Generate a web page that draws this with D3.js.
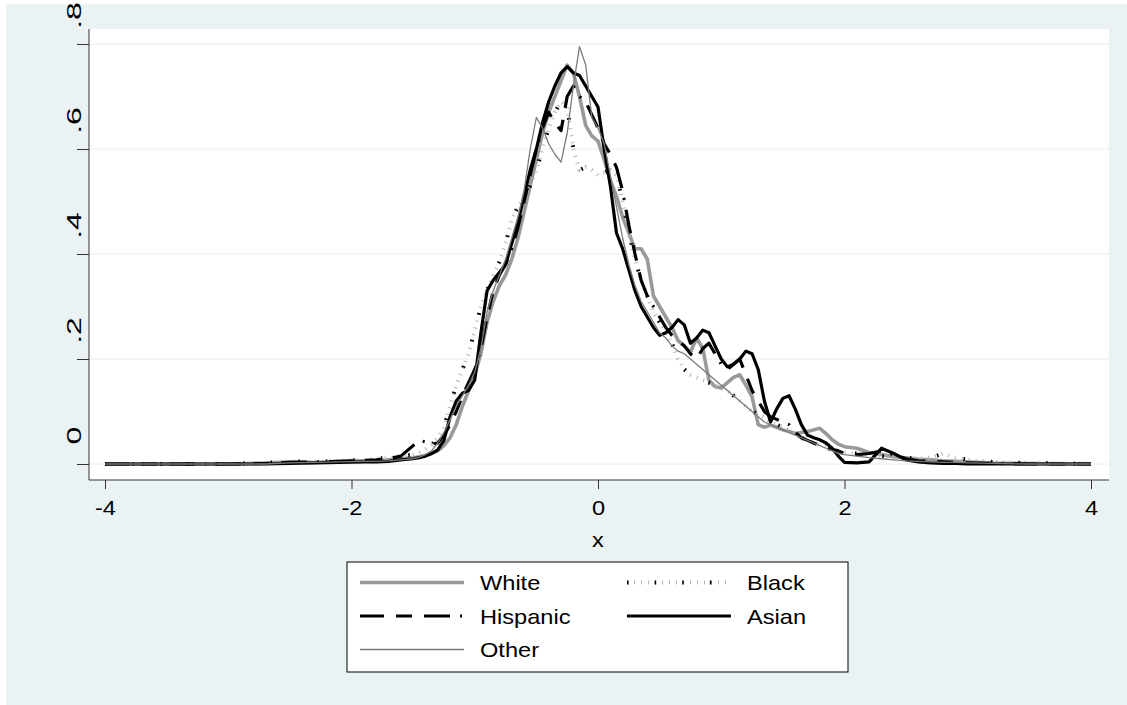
<!DOCTYPE html>
<html>
<head>
<meta charset="utf-8">
<script src="https://cdn.jsdelivr.net/npm/d3@7"></script>
<style>
  body { margin: 0; background: #fff; }
  text { font-family: "Liberation Sans", Arial, sans-serif; }
</style>
</head>
<body>
<div id="chart"></div>
<script>
// evaluation points of the kernel densities
var xGrid = [
  -4, -3.5, -3, -2.7, -2.5, -2.3, -2.1, -1.9, -1.8, -1.7, -1.6,
  -1.5, -1.45, -1.4, -1.35, -1.3, -1.25, -1.2, -1.15, -1.1, -1.05,
  -1.0, -0.95, -0.9, -0.85, -0.8, -0.75, -0.7, -0.65, -0.6, -0.55,
  -0.5, -0.45, -0.4, -0.35, -0.3, -0.25, -0.2, -0.15, -0.1, -0.05,
  0, 0.05, 0.1, 0.15, 0.2, 0.25, 0.3, 0.35, 0.4, 0.45,
  0.5, 0.55, 0.6, 0.65, 0.7, 0.75, 0.8, 0.85, 0.9, 0.95,
  1.0, 1.05, 1.1, 1.15, 1.2, 1.25, 1.3, 1.35, 1.4, 1.45,
  1.5, 1.55, 1.6, 1.65, 1.7, 1.75, 1.8, 1.85, 1.9, 1.95, 2.0,
  2.1, 2.2, 2.3, 2.4, 2.5, 2.6, 2.7, 2.8, 2.9, 3.0, 3.2, 3.5, 4
];

var white = [
  0, 0, 0, 0.002, 0.004, 0.003, 0.005, 0.006, 0.006, 0.008, 0.01,
  0.012, 0.014, 0.016, 0.02, 0.025, 0.035, 0.05, 0.075, 0.11, 0.14,
  0.17, 0.21, 0.27, 0.31, 0.34, 0.36, 0.39, 0.43, 0.48, 0.53,
  0.58, 0.63, 0.67, 0.70, 0.73, 0.76, 0.745, 0.70, 0.645, 0.625,
  0.615, 0.58, 0.54, 0.51, 0.47, 0.44, 0.41, 0.41, 0.39, 0.32,
  0.30, 0.28, 0.26, 0.235, 0.225, 0.213, 0.24, 0.22, 0.16, 0.147,
  0.145, 0.155, 0.165, 0.17, 0.15, 0.128, 0.075, 0.07, 0.074, 0.07,
  0.065, 0.062, 0.058, 0.06, 0.062, 0.065, 0.068, 0.058, 0.046, 0.038, 0.033,
  0.03, 0.022, 0.018, 0.014, 0.012, 0.009, 0.008, 0.006, 0.005, 0.004, 0.002, 0.001, 0
];

var black = [
  0, 0, 0, 0.002, 0.005, 0.004, 0.006, 0.008, 0.01, 0.012, 0.015,
  0.018, 0.022, 0.028, 0.036, 0.05, 0.07, 0.11, 0.15, 0.18, 0.21,
  0.255, 0.30, 0.33, 0.36, 0.385, 0.42, 0.465, 0.49, 0.51, 0.53,
  0.56, 0.60, 0.64, 0.67, 0.69, 0.68, 0.60, 0.56, 0.565, 0.56,
  0.55, 0.555, 0.56, 0.55, 0.50, 0.44, 0.39, 0.35, 0.32, 0.29,
  0.27, 0.25, 0.23, 0.20, 0.18, 0.17, 0.165, 0.16, 0.155, 0.15,
  0.145, 0.14, 0.13, 0.12, 0.11, 0.10, 0.095, 0.09, 0.08, 0.075,
  0.07, 0.065, 0.055, 0.05, 0.045, 0.04, 0.036, 0.035, 0.03, 0.025, 0.022,
  0.02, 0.018, 0.015, 0.014, 0.012, 0.01, 0.012, 0.02, 0.012, 0.008, 0.004, 0.002, 0
];

var hispanic = [
  0, 0, 0, 0.001, 0.003, 0.004, 0.005, 0.007, 0.008, 0.01, 0.015,
  0.035, 0.045, 0.042, 0.038, 0.04, 0.055, 0.075, 0.10, 0.13, 0.155,
  0.18, 0.22, 0.28, 0.33, 0.36, 0.38, 0.41, 0.45, 0.50, 0.55,
  0.60, 0.64, 0.67, 0.65, 0.635, 0.70, 0.72, 0.70, 0.69, 0.665,
  0.64, 0.61, 0.59, 0.565, 0.52, 0.455, 0.40, 0.35, 0.32, 0.30,
  0.28, 0.26, 0.245, 0.235, 0.225, 0.21, 0.20, 0.22, 0.23, 0.21,
  0.19, 0.18, 0.19, 0.20, 0.17, 0.14, 0.12, 0.10, 0.09, 0.085,
  0.08, 0.075, 0.06, 0.05, 0.045, 0.04, 0.035, 0.03, 0.028, 0.025, 0.02,
  0.018, 0.02, 0.025, 0.018, 0.01, 0.006, 0.005, 0.004, 0.003, 0.002, 0.001, 0, 0
];

var asian = [
  0, 0, 0, 0, 0.001, 0.002, 0.003, 0.004, 0.004, 0.005, 0.008,
  0.01, 0.012, 0.015, 0.02, 0.027, 0.045, 0.09, 0.12, 0.135, 0.14,
  0.16, 0.25, 0.33, 0.35, 0.365, 0.38, 0.42, 0.46, 0.51, 0.56,
  0.60, 0.65, 0.69, 0.72, 0.745, 0.757, 0.745, 0.74, 0.72, 0.70,
  0.68, 0.60, 0.53, 0.44, 0.41, 0.37, 0.33, 0.30, 0.28, 0.26,
  0.245, 0.25, 0.26, 0.275, 0.265, 0.23, 0.24, 0.255, 0.25, 0.225,
  0.20, 0.185, 0.19, 0.20, 0.215, 0.21, 0.18, 0.12, 0.08, 0.105,
  0.125, 0.13, 0.105, 0.075, 0.055, 0.05, 0.046, 0.04, 0.03, 0.015, 0.003,
  0.002, 0.004, 0.03, 0.02, 0.008, 0.004, 0.002, 0.001, 0.001, 0, 0, 0, 0
];

var other = [
  0, 0, 0, 0, 0.002, 0.003, 0.004, 0.005, 0.005, 0.006, 0.008,
  0.01, 0.013, 0.018, 0.025, 0.04, 0.06, 0.085, 0.11, 0.13, 0.15,
  0.175, 0.22, 0.29, 0.33, 0.36, 0.39, 0.43, 0.47, 0.52, 0.60,
  0.66, 0.64, 0.61, 0.59, 0.575, 0.63, 0.72, 0.795, 0.76, 0.66,
  0.64, 0.61, 0.55, 0.49, 0.43, 0.38, 0.34, 0.31, 0.29, 0.27,
  0.25, 0.24, 0.225, 0.215, 0.21, 0.20, 0.19, 0.18, 0.17, 0.16,
  0.15, 0.14, 0.13, 0.12, 0.11, 0.10, 0.09, 0.08, 0.075, 0.07,
  0.065, 0.06, 0.055, 0.05, 0.045, 0.04, 0.035, 0.03, 0.025, 0.02, 0.018,
  0.015, 0.012, 0.01, 0.008, 0.006, 0.005, 0.004, 0.003, 0.003, 0.002, 0.001, 0, 0
];

var seriesNames = ["White", "Black", "Hispanic", "Asian", "Other"];
var xTicks = [-4, -2, 0, 2, 4];
var yTicks = [0, 0.2, 0.4, 0.6, 0.8];
var yTickLabels = ["0", ".2", ".4", ".6", ".8"];

var values = { White: white, Black: black, Hispanic: hispanic, Asian: asian, Other: other };

// line looks, stata-ish
var looks = {
  White:    [{ color: "#999", width: 3.6, dash: null }],
  Black:    [{ color: "#b4b4b4", width: 4, dash: "1,6" }, { color: "#000", width: 4, dash: "1.6,26" }],
  Hispanic: [{ color: "#000", width: 3.2, dash: "24,12,16,12,26,10,2,10" }],
  Asian:    [{ color: "#000", width: 3.2, dash: null }],
  Other:    [{ color: "#7a7a7a", width: 1.3, dash: null }]
};

var W = 1127, H = 705;
var plot = { left: 89, top: 29, right: 1109, bottom: 480 };
var stretch = "scale(1.18,1)";   // the original text is a bit wide

var svg = d3.select("#chart").append("svg")
  .attr("width", W).attr("height", H);

svg.append("rect").attr("x", 0).attr("y", 0).attr("width", W).attr("height", H).attr("fill", "#fff");
svg.append("rect").attr("x", 6).attr("y", 4).attr("width", W - 6).attr("height", H - 4).attr("fill", "#eaf2f3");
svg.append("rect")
  .attr("x", plot.left).attr("y", plot.top)
  .attr("width", plot.right - plot.left).attr("height", plot.bottom - plot.top)
  .attr("fill", "#fff");

var x = d3.scaleLinear().domain([-4, 4]).range([105, 1091]);
var y = d3.scaleLinear().domain([0, 0.8]).range([464, 44]);

// gridlines
svg.append("g").selectAll("line")
  .data(yTicks)
  .enter().append("line")
  .attr("x1", plot.left).attr("x2", plot.right)
  .attr("y1", d => y(d)).attr("y2", d => y(d))
  .attr("stroke", "#e6eeee").attr("stroke-width", 1);

// density lines
var line = d3.line()
  .x((d, i) => x(xGrid[i]))
  .y(d => y(d));

var lines = svg.append("g").attr("fill", "none");
seriesNames.forEach(function(name) {
  looks[name].forEach(function(lk) {
    lines.append("path")
      .datum(values[name])
      .attr("d", line)
      .attr("stroke", lk.color)
      .attr("stroke-width", lk.width)
      .attr("stroke-dasharray", lk.dash)
      .attr("stroke-linejoin", "round");
  });
});

// y axis
var yAxis = svg.append("g")
  .attr("transform", "translate(" + plot.left + ",0)")
  .call(d3.axisLeft(y).tickValues(yTicks).tickSize(12).tickSizeOuter(0)
    .tickFormat((d, i) => yTickLabels[i]));
yAxis.select(".domain").remove();
yAxis.selectAll(".tick line").attr("stroke", "#333");
yAxis.selectAll(".tick text")
  .attr("x", null).attr("dy", null)
  .attr("text-anchor", "middle")
  .attr("font-size", 20)
  .attr("fill", "#000")
  .attr("transform", "translate(-8,-29) rotate(-90) scale(1.6,1)");
svg.append("line")
  .attr("x1", plot.left).attr("x2", plot.left)
  .attr("y1", plot.top).attr("y2", plot.bottom)
  .attr("stroke", "#333");

// x axis
var xAxis = svg.append("g")
  .attr("transform", "translate(0," + plot.bottom + ")")
  .call(d3.axisBottom(x).tickValues(xTicks).tickSize(9).tickSizeOuter(0)
    .tickFormat(d => String(d)));
xAxis.select(".domain").remove();
xAxis.selectAll(".tick line").attr("stroke", "#333");
xAxis.selectAll(".tick text")
  .attr("y", null).attr("dy", null)
  .attr("transform", "translate(0,35) " + stretch)
  .attr("font-size", 20)
  .attr("fill", "#000");
svg.append("line")
  .attr("x1", plot.left).attr("x2", plot.right)
  .attr("y1", plot.bottom).attr("y2", plot.bottom)
  .attr("stroke", "#333");

svg.append("text")
  .attr("transform", "translate(" + x(0) + ",547) " + stretch)
  .attr("text-anchor", "middle")
  .attr("font-size", 20)
  .text("x");

// legend
var lg = svg.append("g");
lg.append("rect")
  .attr("x", 347).attr("y", 562).attr("width", 501).attr("height", 110)
  .attr("fill", "#fff").attr("stroke", "#000").attr("stroke-width", 1);

seriesNames.forEach(function(name, i) {
  var col = i % 2, row = Math.floor(i / 2);
  var x0 = col === 0 ? 360 : 627;
  var base = 590 + row * 33.5;
  looks[name].forEach(function(lk) {
    lg.append("line")
      .attr("x1", x0).attr("x2", x0 + 104)
      .attr("y1", base - 7.5).attr("y2", base - 7.5)
      .attr("stroke", lk.color)
      .attr("stroke-width", lk.width)
      .attr("stroke-dasharray", lk.dash);
  });
  lg.append("text")
    .attr("transform", "translate(" + (x0 + 120) + "," + base + ") " + stretch)
    .attr("font-size", 20)
    .text(name);
});
</script>
</body>
</html>
